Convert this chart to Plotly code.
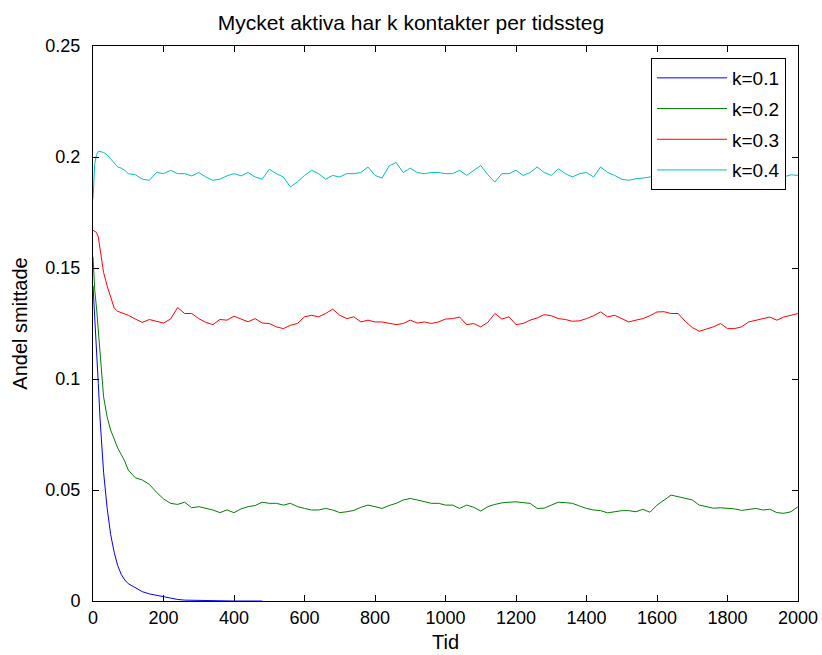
import plotly.graph_objects as go

# time grid
time = [0, 5, 10, 15, 20, 30, 40, 50, 60, 70, 80, 90] + list(range(100, 2001, 20))

k01 = [0.142, 0.128, 0.117, 0.098, 0.082, 0.058, 0.042, 0.030, 0.022, 0.016, 0.012, 0.0095,
       0.0078, 0.0058, 0.0042, 0.0032, 0.0025, 0.0018, 0.0012, 0.0007, 0.0004, 0.0003, 0.0002,
       0.0001, 0.0001, 0.0001, 0.0001, 0.0, 0.0, 0.0, 0.0, 0.0]

k02 = [0.155, 0.140, 0.132, 0.122, 0.110, 0.092, 0.083, 0.077, 0.073, 0.069, 0.066, 0.063,
       0.059, 0.0555, 0.0545, 0.0525, 0.049, 0.046, 0.044, 0.0435, 0.0445, 0.042, 0.0425,
       0.0418, 0.041, 0.0398, 0.041, 0.0398, 0.0415, 0.0425, 0.043, 0.0445, 0.044, 0.044,
       0.0432, 0.044, 0.0425, 0.0417, 0.041, 0.041, 0.0417, 0.041, 0.0398, 0.0402, 0.0408,
       0.0422, 0.0432, 0.0425, 0.0417, 0.043, 0.044, 0.0455, 0.0462, 0.0455, 0.0447, 0.044,
       0.044, 0.0432,
       0.0432, 0.0417, 0.0432, 0.0422, 0.0405, 0.0425, 0.0435, 0.0442, 0.0445, 0.0447,
       0.0443, 0.044, 0.0417, 0.0418, 0.0432, 0.0445, 0.0443, 0.044, 0.0428, 0.0417,
       0.041, 0.0407, 0.0397, 0.0402, 0.0407, 0.0407, 0.0402, 0.0413, 0.040, 0.0432,
       0.0455, 0.0477, 0.047, 0.0462, 0.0455, 0.0432, 0.0425, 0.0418, 0.042, 0.0417,
       0.0415, 0.0408, 0.0412, 0.0417, 0.041, 0.0413, 0.0398, 0.0395, 0.0402, 0.0425]

k03 = [0.167, 0.1665, 0.166, 0.164, 0.159, 0.148, 0.142, 0.1375, 0.132, 0.1305, 0.1299, 0.1292,
       0.1287, 0.127, 0.1255, 0.1268, 0.126, 0.1252, 0.127, 0.1322, 0.1295, 0.1295, 0.1272,
       0.1255, 0.1245, 0.1268, 0.1265, 0.1283, 0.127, 0.1258, 0.1272, 0.1252, 0.125, 0.1235,
       0.1227, 0.1242, 0.125, 0.128, 0.1287, 0.128, 0.1295, 0.1315, 0.1287, 0.1272, 0.128,
       0.1257, 0.1265, 0.1257, 0.1257, 0.125, 0.1245, 0.125, 0.1265, 0.1252, 0.1257, 0.125,
       0.1257, 0.127,
       0.1272, 0.1279, 0.1245, 0.125, 0.1235, 0.1255, 0.1295, 0.127, 0.128, 0.1245,
       0.125, 0.1265, 0.1275, 0.129, 0.1285, 0.1272, 0.1268, 0.126, 0.1262, 0.1272,
       0.1285, 0.1302, 0.128, 0.1287, 0.1272, 0.1257, 0.1265, 0.1272, 0.1285, 0.1302,
       0.1303, 0.1295, 0.1295, 0.126, 0.1232, 0.1215, 0.1225, 0.1235, 0.125, 0.1227,
       0.1227, 0.1235, 0.1257, 0.1265, 0.1272, 0.1279, 0.1265, 0.1279, 0.1287, 0.1295]

k04 = [0.181, 0.197, 0.201, 0.2025, 0.2025, 0.202, 0.201, 0.199, 0.197, 0.1955, 0.195, 0.194,
       0.1925, 0.192, 0.190, 0.1895, 0.193, 0.1925, 0.194, 0.1925, 0.1925, 0.1915, 0.193,
       0.191, 0.1895, 0.190, 0.1915, 0.1925, 0.1915, 0.193, 0.191, 0.190, 0.1945, 0.1925,
       0.191, 0.1865, 0.1888, 0.1917, 0.194, 0.1925, 0.190, 0.1917, 0.191, 0.1925, 0.1925,
       0.193, 0.1955, 0.1917, 0.1905, 0.196, 0.1975, 0.193, 0.195, 0.193, 0.1925, 0.193,
       0.193, 0.1925,
       0.1925, 0.194, 0.1917, 0.194, 0.1962, 0.192, 0.1887, 0.1925, 0.1925, 0.194,
       0.1917, 0.193, 0.1955, 0.193, 0.1917, 0.1947, 0.1925, 0.191, 0.1925, 0.193,
       0.191, 0.1955, 0.193, 0.1917, 0.190, 0.1895, 0.1902, 0.1905, 0.191, 0.1915,
       0.192, 0.1905, 0.190, 0.191, 0.192, 0.1915, 0.1905, 0.191, 0.1925, 0.192,
       0.191, 0.1905, 0.191, 0.192, 0.1915, 0.191, 0.1905, 0.191, 0.192, 0.1917]

series = [("k=0.1", k01, "#0000ff"), ("k=0.2", k02, "#008000"),
          ("k=0.3", k03, "#ff0000"), ("k=0.4", k04, "#00bfbf")]

xticks = list(range(0, 2001, 200))
yticks = [0, 0.05, 0.1, 0.15, 0.2, 0.25]
yticklabels = ["0", "0.05", "0.1", "0.15", "0.2", "0.25"]

FONT = "Liberation Sans"

fig = go.Figure()
for i, (name, vals, col) in enumerate(series):
    fig.add_trace(go.Scatter(x=time[:len(vals)], y=vals, mode="lines", name=name,
                             legendgroup=name,
                             line=dict(color=col, width=1)))

axis_common = dict(showline=True, linecolor="black", linewidth=1, mirror="ticks",
                   ticks="inside", ticklen=6, tickcolor="black", showgrid=False,
                   zeroline=False, automargin=False,
                   tickfont=dict(family=FONT, size=18, color="black"))

fig.update_layout(
    width=822, height=655,
    margin=dict(l=93, r=24, t=46, b=54),
    paper_bgcolor="white", plot_bgcolor="white",
    title=dict(text="Mycket aktiva har k kontakter per tidssteg", x=0.5, xanchor="center",
               y=1 - 23 / 655, yanchor="middle",
               font=dict(family=FONT, size=21, color="black")),
    xaxis=dict(range=[0, 2000], tickvals=xticks,
               title=dict(text="Tid", font=dict(family=FONT, size=20, color="black"), standoff=8),
               **axis_common),
    yaxis=dict(range=[0, 0.25], tickvals=yticks, ticktext=yticklabels,
               ticklabelstandoff=8,
               title=dict(text="Andel smittade", font=dict(family=FONT, size=20, color="black"), standoff=12),
               **axis_common),
    legend=dict(x=(786 - 93) / 705, y=(601 - 58) / 555, xanchor="right", yanchor="top",
                bordercolor="black", borderwidth=1, bgcolor="white",
                font=dict(family=FONT, size=19, color="black"),
                itemwidth=70, entrywidth=75, tracegroupgap=3),
    showlegend=True,
)

fig.write_html("out.html", config={"displayModeBar": False},
               post_script="document.body.style.margin='0';")
